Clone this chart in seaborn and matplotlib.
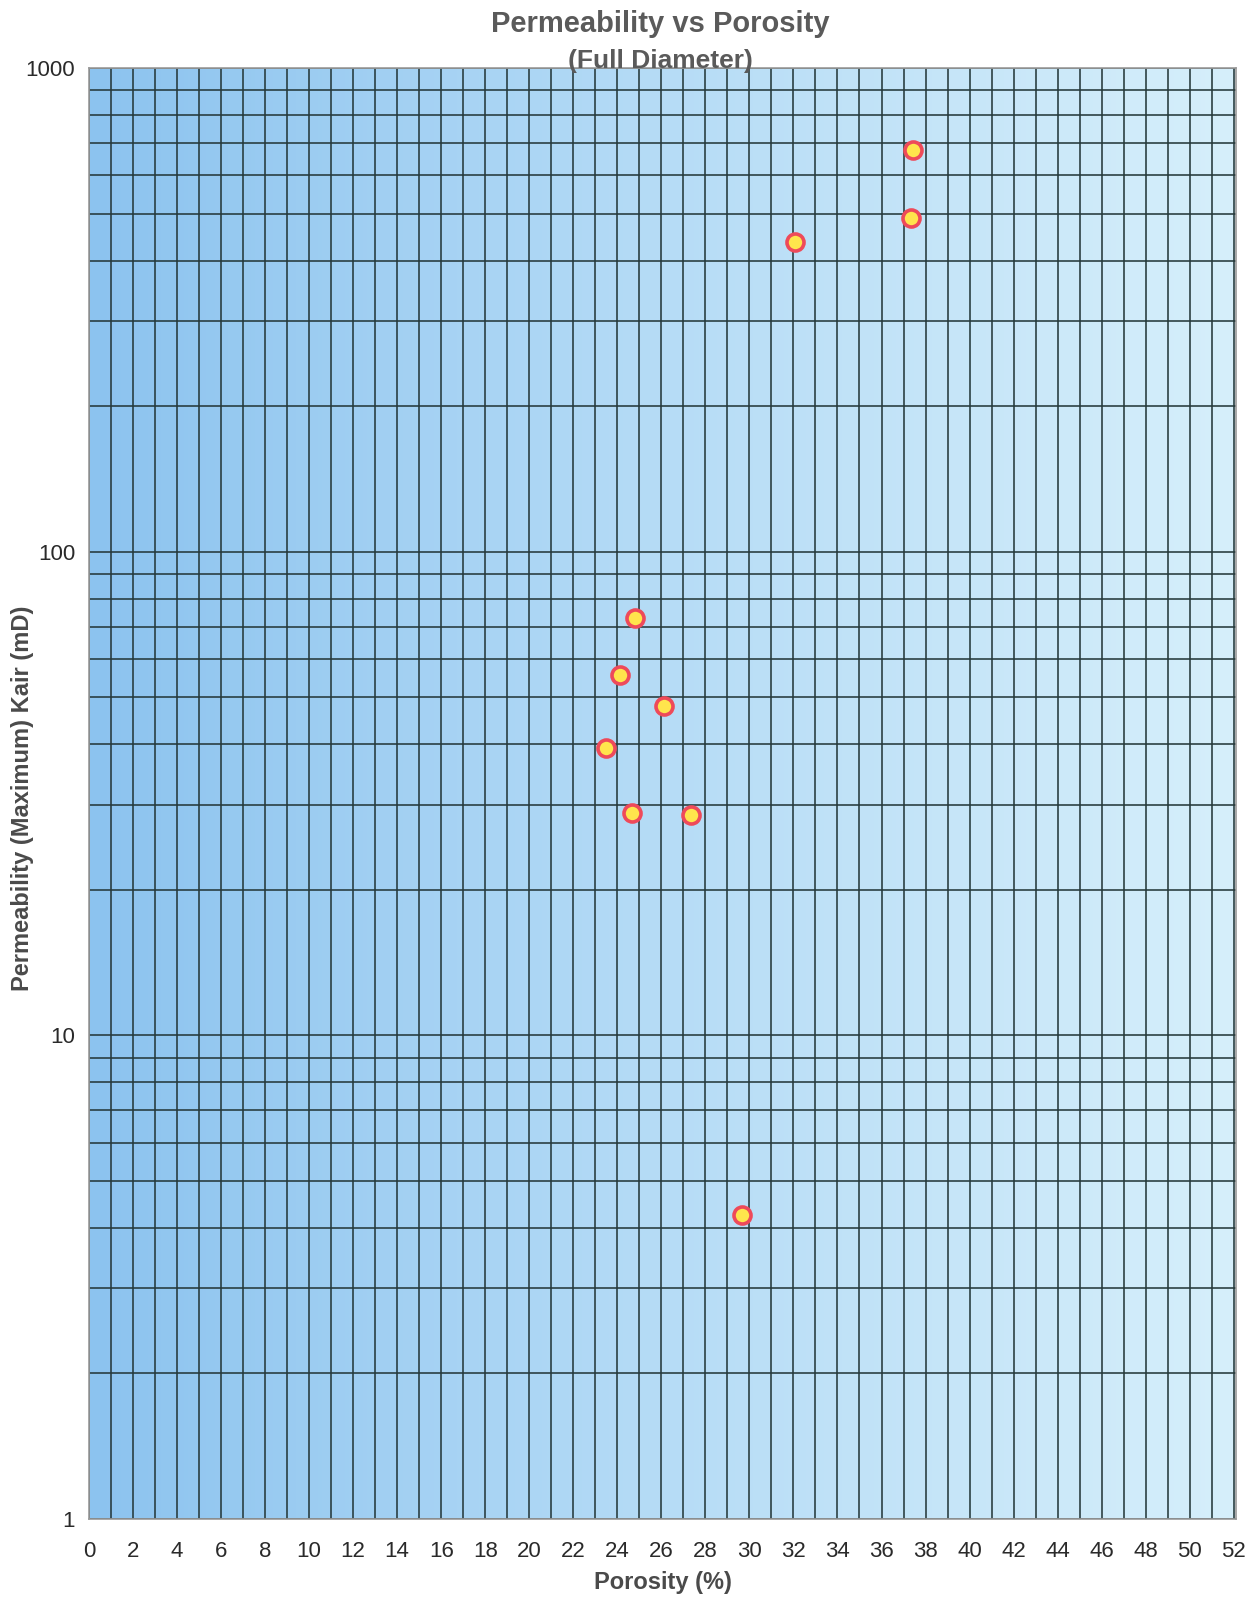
import numpy as np
import pandas as pd
import matplotlib
matplotlib.use('Agg')
import matplotlib.pyplot as plt
import seaborn as sns
from matplotlib.colors import LinearSegmentedColormap
from matplotlib.ticker import FixedLocator, LogLocator, NullFormatter

# datos
porosidad = [24.8, 24.1, 26.1, 23.5, 24.65, 27.35, 37.45, 37.35, 32.05, 29.65]
permeabilidad = [72.9, 55.7, 47.9, 39.3, 28.8, 28.6, 678, 489, 436, 4.25]
ticks_x = list(range(0, 53, 2))
ticks_y = [1, 10, 100, 1000]

df = pd.DataFrame({'porosidad': porosidad, 'perm': permeabilidad})

sns.set_style('white')
plt.rcParams['font.family'] = ['Liberation Sans', 'DejaVu Sans']

fig = plt.figure(figsize=(12.53, 15.98), dpi=100)
ax = fig.add_axes([0.071, 0.0494, 0.9154, 0.908])

# fondo degradado azul
cmap = LinearSegmentedColormap.from_list('fondo', ['#8cc3ef', '#b6dcf6', '#d6effb'])
grad = np.linspace(0, 1, 256).reshape(1, -1)
ax.imshow(grad, cmap=cmap, aspect='auto', extent=[0, 52.1, 1, 1000],
          transform=ax.transData, zorder=0)

ax.set_yscale('log')
ax.set_xlim(0, 52.1)
ax.set_ylim(1, 1000)

# cuadricula
ax.xaxis.set_minor_locator(FixedLocator(range(0, 53)))
ax.yaxis.set_minor_locator(LogLocator(base=10, subs=np.arange(2, 10)))
ax.yaxis.set_minor_formatter(NullFormatter())
ax.grid(True, which='both', color='#25393b', linewidth=1.15)
ax.set_axisbelow(True)

sns.scatterplot(data=df, x='porosidad', y='perm', ax=ax, s=150,
                color='#ffe54c', edgecolor='#ee4a5a', linewidth=2.6, zorder=5)

ax.set_xticks(ticks_x)
ax.set_yticks(ticks_y)
ax.set_yticklabels([str(t) for t in ticks_y])
ax.tick_params(axis='x', which='major', length=6, width=1.2, color='#555555',
               labelsize=16, labelcolor='#2a2a2a', pad=10)
ax.tick_params(axis='y', which='major', length=6, width=1.2, color='#555555',
               labelsize=16, labelcolor='#2a2a2a', pad=4)
ax.tick_params(which='minor', length=0)

for s in ax.spines.values():
    s.set_color('#999999')
    s.set_linewidth(1.2)

ax.set_xlabel('Porosity (%)', fontsize=17, fontweight='bold', color='#4a4a4a', labelpad=6)
ax.set_ylabel('Permeability (Maximum) Kair (mD)', fontsize=17, fontweight='bold',
              color='#4a4a4a')
ax.yaxis.set_label_coords(-0.048, 0.497)

fig.text(0.527, 0.985, 'Permeability vs Porosity', ha='center', va='center',
         fontsize=21, fontweight='bold', color='#5a5a5a')
fig.text(0.527, 0.962, '(Full Diameter)', ha='center', va='center',
         fontsize=19, fontweight='bold', color='#5a5a5a')

fig.savefig('out.png', dpi=100)
